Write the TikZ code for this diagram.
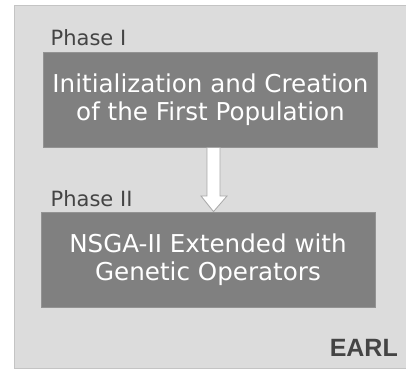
\documentclass[tikz,border=0pt]{standalone}
\usepackage{fontspec}
\setmainfont{DejaVu Sans}
\newfontfamily\earlfont{Liberation Sans}
\usetikzlibrary{calc}
\definecolor{panelfill}{HTML}{DCDCDC}
\definecolor{paneledge}{HTML}{C4C4C4}
\definecolor{boxfill}{HTML}{808080}
\definecolor{labelgray}{HTML}{444444}
\definecolor{arrowedge}{HTML}{A8A8A8}
\tikzset{
  phasebox/.style={draw=boxfill!85!white, line width=0.8pt, fill=boxfill, text=white,
    minimum width=334pt, minimum height=95pt, inner sep=0pt, align=center,
    font=\fontsize{24.6}{28}\selectfont},
  phaselabel/.style={anchor=base west, inner sep=0pt, text=labelgray,
    font=\fontsize{21}{24}\selectfont},
  flowarrow/.style={draw=arrowedge, line width=0.8pt, fill=white, line join=miter}
}
\begin{document}
\begin{tikzpicture}[x=1pt, y=-1pt]
  \useasboundingbox (0,0) rectangle (406,373);
  % outer EARL panel
  \node[draw=paneledge, line width=1pt, fill=panelfill, minimum width=393pt,
        minimum height=363.5pt, inner sep=0pt, anchor=north west] (panel) at (13.5,4.5) {};
  % phase boxes
  \node[phasebox] (b1) at (210.5,99.5) {Initialization and Creation\\of the First Population};
  \node[phasebox] (b2) at (208,259.5) {NSGA-II Extended with\\Genetic Operators};
  % phase captions
  \node[phaselabel] (l1) at (50.5,45.3) {Phase I};
  \node[phaselabel] (l2) at (50.5,206) {Phase II};
  % block arrow from phase I to phase II
  \draw[flowarrow]
    ($(b1.south)+(-3.5,0)$) -- ($(b1.south)+(9.5,0)$)
    -- ($(b1.south |- 0,196)+(9.5,0)$) -- ($(b1.south |- 0,196)+(16.5,0)$)
    -- ($(b2.north)+(5.5,0)$)
    -- ($(b1.south |- 0,196)+(-9.5,0)$) -- ($(b1.south |- 0,196)+(-3.5,0)$) -- cycle;
  % panel title
  \node[anchor=base east, inner sep=0pt, text=labelgray,
        font=\earlfont\bfseries\fontsize{25}{30}\selectfont] (earl) at (398,356) {EARL};
\end{tikzpicture}
\end{document}
